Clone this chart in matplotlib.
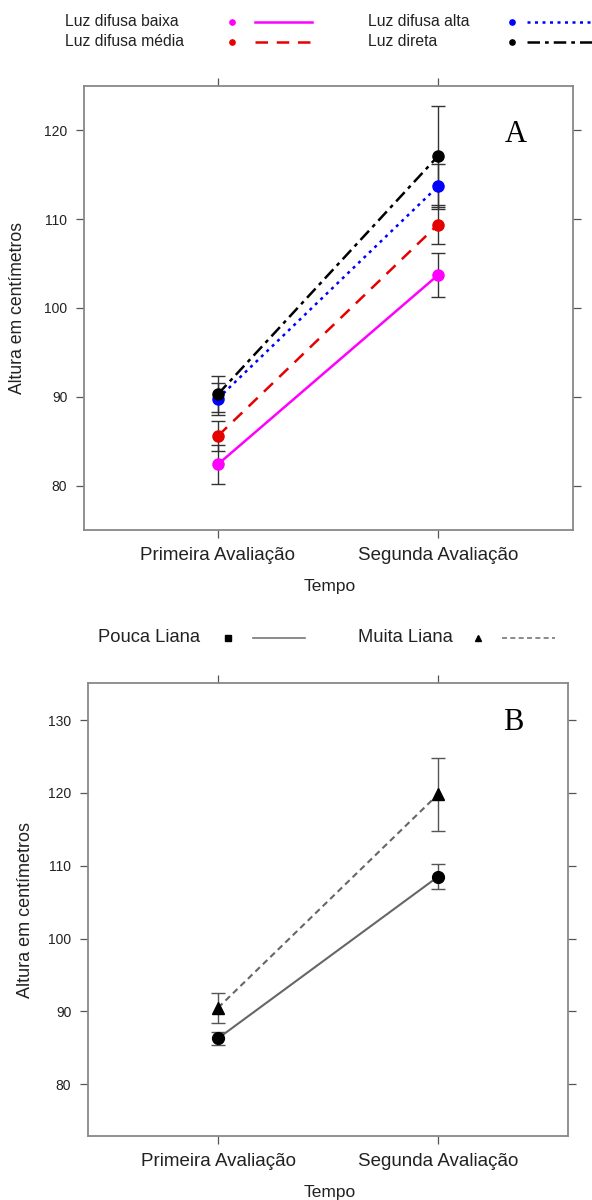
import matplotlib
matplotlib.use("Agg")
import matplotlib.pyplot as plt
from matplotlib.lines import Line2D

plt.rcParams['font.family'] = ['Liberation Sans', 'DejaVu Sans']

# data
tempos = ['Primeira Avaliação', 'Segunda Avaliação']
x_pos = [1, 2]

luz_labels = ['Luz difusa baixa', 'Luz difusa média', 'Luz difusa alta', 'Luz direta']
luz_means = [[82.4, 103.7], [85.6, 109.4], [89.8, 113.7], [90.3, 117.1]]
luz_err = [[2.2, 2.5], [1.7, 2.2], [1.8, 2.5], [2.0, 5.7]]
luz_colors = ['#ff00ff', '#e60000', '#0000ff', '#000000']
luz_styles = ['-', (0, (5, 3.5)), (0, (1.2, 1.8)), (0, (5, 2, 1.5, 2))]

liana_labels = ['Pouca Liana', 'Muita Liana']
liana_means = [[86.3, 108.5], [90.5, 119.8]]
liana_err = [[0.9, 1.7], [2.1, 5.0]]
liana_markers = ['o', '^']
liana_styles = ['-', (0, (3, 2))]

W, H = 592, 1200


def fx(x):
    return x / W


def fy(y):
    return 1 - y / H


def style_axes(ax, yticks, ylim, xlim, labsize):
    ax.set_xlim(*xlim)
    ax.set_ylim(*ylim)
    ax.set_xticks(x_pos)
    ax.set_xticklabels(tempos, fontsize=13.5, color='#222222')
    ax.set_yticks(yticks)
    ax.tick_params(axis='y', labelsize=10, labelcolor='#222222')
    ax.tick_params(direction='out', top=True, right=True, length=6, width=0.9,
                   color='#555555', pad=6)
    for s in ax.spines.values():
        s.set_color('#888888')
        s.set_linewidth(1.3)
    ax.set_ylabel('Altura em centímetros', fontsize=labsize, color='#222222')
    ax.set_xlabel('Tempo', fontsize=12.5, color='#222222')


def fig_line(x0, x1, y, **kw):
    fig.add_artist(Line2D([fx(x0), fx(x1)], [fy(y), fy(y)], transform=fig.transFigure, **kw))


def fig_marker(x, y, **kw):
    fig.add_artist(Line2D([fx(x)], [fy(y)], transform=fig.transFigure, linestyle='none', **kw))


fig = plt.figure(figsize=(W / 100, H / 100), dpi=100)

# Panel A
axA = fig.add_axes([fx(84), fy(530), fx(573) - fx(84), fy(86) - fy(530)])
for m, e in zip(luz_means, luz_err):
    axA.errorbar(x_pos, m, yerr=e, fmt='none', ecolor='#333333', elinewidth=1, capsize=5, capthick=1)
for m, c, ls in zip(luz_means, luz_colors, luz_styles):
    axA.plot(x_pos, m, color=c, linestyle=ls, linewidth=1.8)
for m, c in zip(luz_means, luz_colors):
    axA.plot(x_pos, m, marker='o', markersize=8, color=c, linestyle='none')
style_axes(axA, [80, 90, 100, 110, 120], (75, 125), (0.391, 2.614), 12.7)
axA.yaxis.set_label_coords(-0.135, 0.5)
axA.yaxis.label.set_va('center')
axA.xaxis.set_label_coords(0.503, -0.128)
axA.xaxis.label.set_va('center')
axA.text(0.883, 0.89, 'A', transform=axA.transAxes, fontsize=22,
         family=['Liberation Serif', 'DejaVu Serif'], ha='center', va='center')

# legend A
leg_pos = [(65, 232, 255, 312, 22), (65, 232, 255, 312, 42),
           (368, 512, 527, 592, 22), (368, 512, 527, 592, 42)]
for lab, c, ls, (tx, mx, l0, l1, y) in zip(luz_labels, luz_colors, luz_styles, leg_pos):
    fig.text(fx(tx), fy(y), lab, fontsize=11.3, color='#222222', ha='left', va='center')
    fig_marker(mx, y, marker='o', markersize=3.8, color=c)
    fig_line(l0, l1, y, color=c, linestyle=ls, linewidth=1.8)

# Panel B
axB = fig.add_axes([fx(88), fy(1136), fx(568) - fx(88), fy(683) - fy(1136)])
for m, e in zip(liana_means, liana_err):
    axB.errorbar(x_pos, m, yerr=e, fmt='none', ecolor='#555555', elinewidth=1, capsize=5, capthick=1)
for m, ls in zip(liana_means, liana_styles):
    axB.plot(x_pos, m, color='#666666', linestyle=ls, linewidth=1.5)
for m, mk in zip(liana_means, liana_markers):
    axB.plot(x_pos, m, marker=mk, markersize=8.5, color='black', linestyle='none')
style_axes(axB, [80, 90, 100, 110, 120, 130], (72.9, 135.1), (0.409, 2.591), 13)
axB.yaxis.set_label_coords(-0.131, 0.5)
axB.yaxis.label.set_va('center')
axB.xaxis.set_label_coords(0.503, -0.124)
axB.xaxis.label.set_va('center')
axB.text(0.885, 0.912, 'B', transform=axB.transAxes, fontsize=22,
         family=['Liberation Serif', 'DejaVu Serif'], ha='center', va='center')

# legend B
leg_pos_b = [(98, 228, 253, 305, 638), (358, 478, 502, 555, 638)]
leg_mk_b = ['s', '^']
for lab, mk, ls, (tx, mx, l0, l1, y) in zip(liana_labels, leg_mk_b, liana_styles, leg_pos_b):
    fig.text(fx(tx), fy(y), lab, fontsize=13.2, color='#222222', ha='left', va='center')
    fig_marker(mx, y, marker=mk, markersize=4, color='black')
    fig_line(l0, l1, y, color='#777777', linestyle=ls, linewidth=1.2)

fig.savefig('out.png', dpi=100, facecolor='white')
